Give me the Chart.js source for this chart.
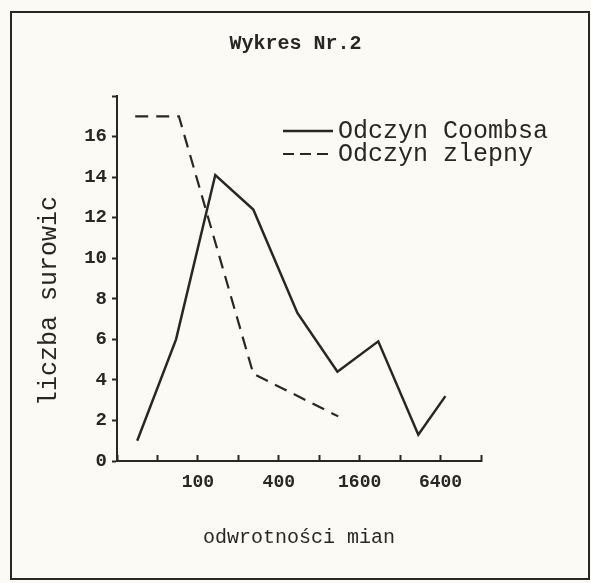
<!DOCTYPE html>
<html>
<head>
<meta charset="utf-8">
<script src="https://cdn.jsdelivr.net/npm/chart.js@4.4.0/dist/chart.umd.min.js"></script>
<style>
  html, body { margin: 0; padding: 0; background: #fbfaf4; }
  #wrap { position: relative; width: 591px; height: 583px; }
  #frame { position: absolute; left: 10px; top: 11px; width: 580px; height: 569px; border: 2px solid #2b2626; box-sizing: border-box; pointer-events: none; }
</style>
</head>
<body>
<div id="wrap">
  <canvas id="myChart" width="591" height="583"></canvas>
  <div id="frame"></div>
</div>
<script>
// x positions are in "tick steps" (each step = doubling of the titre), 0 = origin
const xTickLabels = ['', '', '100', '', '400', '', '1600', '', '6400', ''];
const coombsX = [0.5, 1.46, 2.43, 3.37, 4.46, 5.45, 6.46, 7.45, 8.12];
const coombsY = [1.0, 6.0, 14.1, 12.4, 7.3, 4.4, 5.9, 1.3, 3.2];
const zlepnyX = [0.45, 1.53, 3.37, 5.47];
const zlepnyY = [17.0, 17.0, 4.3, 2.2];

const ink = '#2b2626';
const mono = '"Liberation Mono", "DejaVu Sans Mono", monospace';

// legend typed inside the plot, like in the original
const typedLegend = {
    id: 'typedLegend',
    afterDatasetsDraw(chart) {
        const { ctx, chartArea } = chart;
        const x0 = chartArea.left + 166;
        const y0 = chartArea.top + 35;
        ctx.save();
        chart.data.datasets.forEach((ds, i) => {
            const y = y0 + i * 23;
            ctx.strokeStyle = ds.borderColor;
            ctx.lineWidth = ds.borderWidth;
            ctx.setLineDash(ds.borderDash ? [11, 6] : []);
            ctx.beginPath();
            ctx.moveTo(x0, y);
            ctx.lineTo(x0 + 50, y);
            ctx.stroke();
            ctx.fillStyle = ink;
            ctx.font = '25px ' + mono;
            ctx.textBaseline = 'middle';
            ctx.fillText(ds.label, x0 + 55, y);
        });
        ctx.restore();
    }
};

const ctx = document.getElementById('myChart').getContext('2d');

window.myChart = new Chart(ctx, {
    type: 'line',
    data: {
        datasets: [{
            label: 'Odczyn Coombsa',
            data: coombsX.map((x, i) => ({ x: x, y: coombsY[i] })),
            borderColor: ink,
            borderWidth: 2.5,
            pointRadius: 0,
            tension: 0
        }, {
            label: 'Odczyn zlepny',
            data: zlepnyX.map((x, i) => ({ x: x, y: zlepnyY[i] })),
            borderColor: ink,
            borderWidth: 2.2,
            borderDash: [13, 8],
            pointRadius: 0,
            tension: 0
        }]
    },
    options: {
        responsive: false,
        animation: false,
        layout: { padding: 0 },
        plugins: {
            legend: { display: false },
            tooltip: { enabled: false },
            title: {
                display: true,
                text: 'Wykres Nr.2',
                color: ink,
                font: { family: mono, size: 20, weight: 'bold' },
                padding: { top: 32, bottom: 40 }
            }
        },
        scales: {
            x: {
                type: 'linear',
                min: 0,
                max: 9,
                ticks: {
                    stepSize: 1,
                    autoSkip: false,
                    maxRotation: 0,
                    callback: v => xTickLabels[v],
                    color: ink,
                    font: { family: mono, size: 18, weight: 'bold' },
                    padding: 17
                },
                grid: { drawOnChartArea: false, tickLength: -6, tickWidth: 2, color: ink },
                border: { color: ink, width: 2 },
                title: {
                    display: true,
                    text: 'odwrotności mian',
                    color: ink,
                    font: { family: mono, size: 20 },
                    padding: { top: 0, bottom: 33 }
                },
                afterFit: s => { s.height = 122; }
            },
            y: {
                min: 0,
                max: 18,
                ticks: {
                    stepSize: 2,
                    callback: v => (v === 18 ? '' : v),
                    color: ink,
                    font: { family: mono, size: 19, weight: 'bold' },
                    padding: 5
                },
                grid: { drawOnChartArea: false, tickLength: 5, tickWidth: 2, color: ink },
                border: { color: ink, width: 2 },
                title: {
                    display: true,
                    // trailing spaces push the typed label down a little, as in the original
                    text: 'liczba surowic   ',
                    color: ink,
                    font: { family: mono, size: 25 },
                    padding: { top: 34, bottom: 0 }
                },
                afterFit: s => { s.width = 117; }
            },
            // empty space on the right, kept as an invisible axis so the title stays centred on the page
            spare: {
                position: 'right',
                min: 0,
                max: 18,
                ticks: { display: false },
                grid: { display: false },
                border: { display: false },
                afterFit: s => { s.width = 110; }
            }
        }
    },
    plugins: [typedLegend]
});
</script>
</body>
</html>
